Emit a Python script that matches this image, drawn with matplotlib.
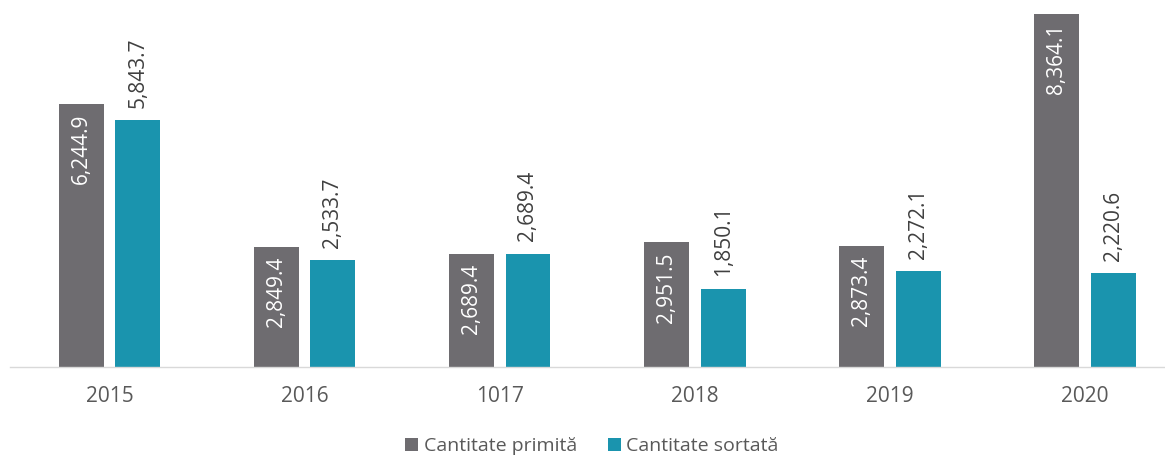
import matplotlib
matplotlib.use("Agg")
import matplotlib.pyplot as plt
import numpy as np

categories = ["2015", "2016", "1017", "2018", "2019", "2020"]
primita = [6244.9, 2849.4, 2689.4, 2951.5, 2873.4, 8364.1]
sortata = [5843.7, 2533.7, 2689.4, 1850.1, 2272.1, 2220.6]
series_names = ["Cantitate primită", "Cantitate sortată"]

gray = "#6e6c70"
teal = "#1a94ae"

plt.rcParams['font.family'] = ['Open Sans', 'DejaVu Sans']

W, H = 1165, 458
fig = plt.figure(figsize=(W / 100, H / 100), dpi=100)
ax = fig.add_axes([10 / W, 1 - 367 / H, (W - 10) / W, 367 / H])

x = np.arange(len(categories))
bw = 0.23
off = 0.145
b1 = ax.bar(x - off, primita, bw, color=gray, label=series_names[0])
b2 = ax.bar(x + off, sortata, bw, color=teal, label=series_names[1])

ax.set_ylim(0, 8700)
ax.set_xlim(-0.51, (W - 110) / 195)

def fmt(v):
    return f"{v:,.1f}"

for xi, v in zip(x, primita):
    ax.annotate(fmt(v), (xi - off, v), xytext=(0, -7), textcoords="offset points",
                rotation=90, ha="center", va="top", color="white", fontsize=15)
for xi, v in zip(x, sortata):
    ax.annotate(fmt(v), (xi + off, v), xytext=(0, 9), textcoords="offset points",
                rotation=90, ha="center", va="bottom", color="#404040", fontsize=15)

for s in ["top", "right", "left"]:
    ax.spines[s].set_visible(False)
ax.spines["bottom"].set_color("#d9d9d9")
ax.spines["bottom"].set_linewidth(1)
ax.set_yticks([])
ax.set_xticks(x)
ax.set_xticklabels(categories, fontsize=15, color="#595959")
ax.tick_params(axis="x", length=0, pad=14)

fig.legend(handles=[b1, b2], labels=series_names, loc="center", bbox_to_anchor=(592 / W, 1 - 446 / H),
           ncol=2, frameon=False, fontsize=14, handlelength=0.65, handleheight=0.65,
           handletextpad=0.3, columnspacing=1.6, labelcolor="#595959")

fig.savefig("out.png", dpi=100)
